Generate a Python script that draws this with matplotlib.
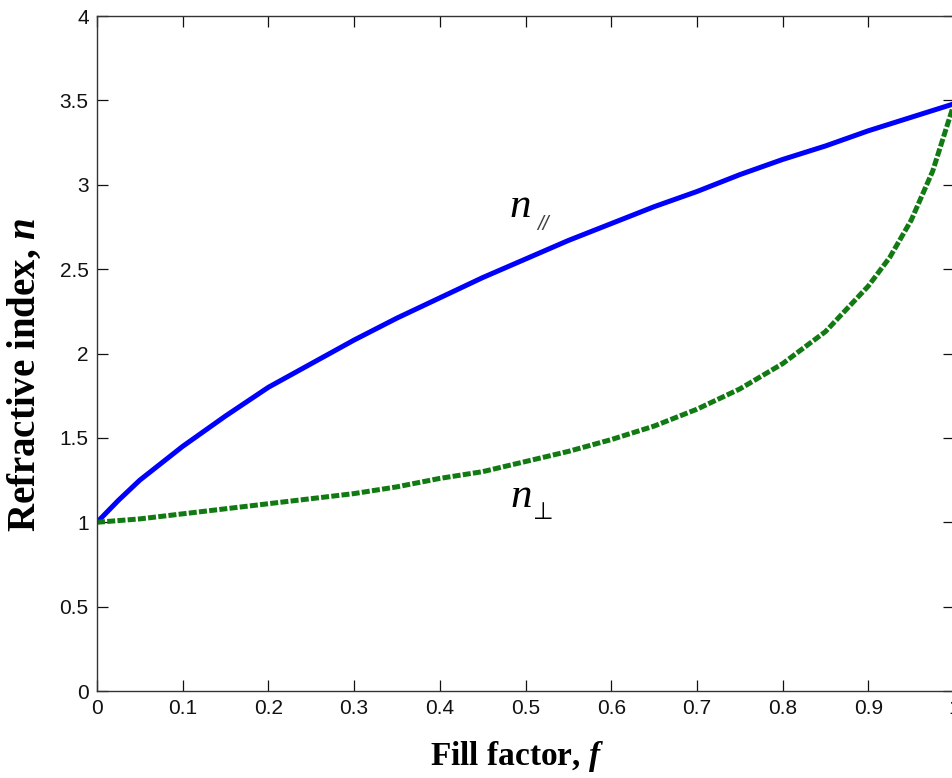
import matplotlib
matplotlib.use("Agg")
import matplotlib.pyplot as plt

# fill factor values and the two index curves
f_par = [0, 0.025, 0.05, 0.1, 0.15, 0.2, 0.25, 0.3, 0.35, 0.4, 0.45, 0.5,
         0.55, 0.6, 0.65, 0.7, 0.75, 0.8, 0.85, 0.9, 0.95, 1.0]
n_par = [1.0, 1.13, 1.25, 1.45, 1.63, 1.80, 1.94, 2.08, 2.21, 2.33, 2.45, 2.56,
         2.67, 2.77, 2.87, 2.96, 3.06, 3.15, 3.23, 3.32, 3.40, 3.48]

f_perp = [0, 0.05, 0.1, 0.15, 0.2, 0.25, 0.3, 0.35, 0.4, 0.45, 0.5, 0.55, 0.6,
          0.65, 0.7, 0.75, 0.8, 0.85, 0.9, 0.925, 0.95, 0.975, 1.0]
n_perp = [1.0, 1.02, 1.05, 1.08, 1.11, 1.14, 1.17, 1.21, 1.26, 1.30, 1.36, 1.42,
          1.49, 1.57, 1.67, 1.79, 1.94, 2.13, 2.40, 2.57, 2.79, 3.08, 3.48]

xticks = [0, 0.1, 0.2, 0.3, 0.4, 0.5, 0.6, 0.7, 0.8, 0.9, 1]
xticklabels = ["0", "0.1", "0.2", "0.3", "0.4", "0.5", "0.6", "0.7", "0.8", "0.9", "1"]
yticks = [0, 0.5, 1, 1.5, 2, 2.5, 3, 3.5, 4]
yticklabels = ["0", "0.5", "1", "1.5", "2", "2.5", "3", "3.5", "4"]

# bold italic symbols inside the axis labels
plt.rcParams["mathtext.fontset"] = "custom"
plt.rcParams["mathtext.rm"] = "Liberation Serif:bold"
plt.rcParams["mathtext.it"] = "Liberation Serif:italic:bold"

fig = plt.figure(figsize=(9.53, 7.78), dpi=100)
# right edge of the axes sits just past the picture, like the original crop
ax = fig.add_axes([0.1018, 0.1118, 0.8993, 0.8676])

ax.plot(f_par, n_par, color="#0000ff", lw=3.6, solid_capstyle="butt")
ax.plot(f_perp, n_perp, color="#127a12", lw=3.6, linestyle=(0, (1.6, 0.45)))

ax.set_xlim(0, 1)
ax.set_ylim(0, 4)
ax.set_xticks(xticks)
ax.set_xticklabels(xticklabels)
ax.set_yticks(yticks)
ax.set_yticklabels(yticklabels)
ax.tick_params(direction="in", length=8, width=0.9, top=True, right=True,
               labelsize=15, pad=6, colors="#111111")
for lab in ax.get_xticklabels() + ax.get_yticklabels():
    lab.set_family("Liberation Sans")
for s in ax.spines.values():
    s.set_linewidth(1.0)
    s.set_color("#333333")

# curve labels
ax.text(0.494, 2.81, "n", fontsize=31, family="Liberation Serif",
        style="italic", ha="center", va="baseline")
ax.text(0.514, 2.73, "//", fontsize=15, family="Liberation Sans",
        style="italic", color="#444444", ha="left", va="baseline")
ax.text(0.495, 1.09, "n", fontsize=31, family="Liberation Serif",
        style="italic", ha="center", va="baseline")
ax.text(0.521, 1.02, "\u22a5", fontsize=17, family="DejaVu Sans",
        ha="center", va="baseline")

# axis labels
fig.text(0.5426, 0.0167, "Fill factor, $f$", fontsize=24, family="Liberation Serif",
         weight="bold", ha="center", va="baseline")
fig.text(0.026, 0.518, "Refractive index, $n$", fontsize=28, family="Liberation Serif",
         weight="bold", rotation=90, ha="center", va="center")

fig.savefig("out.png", dpi=100)
